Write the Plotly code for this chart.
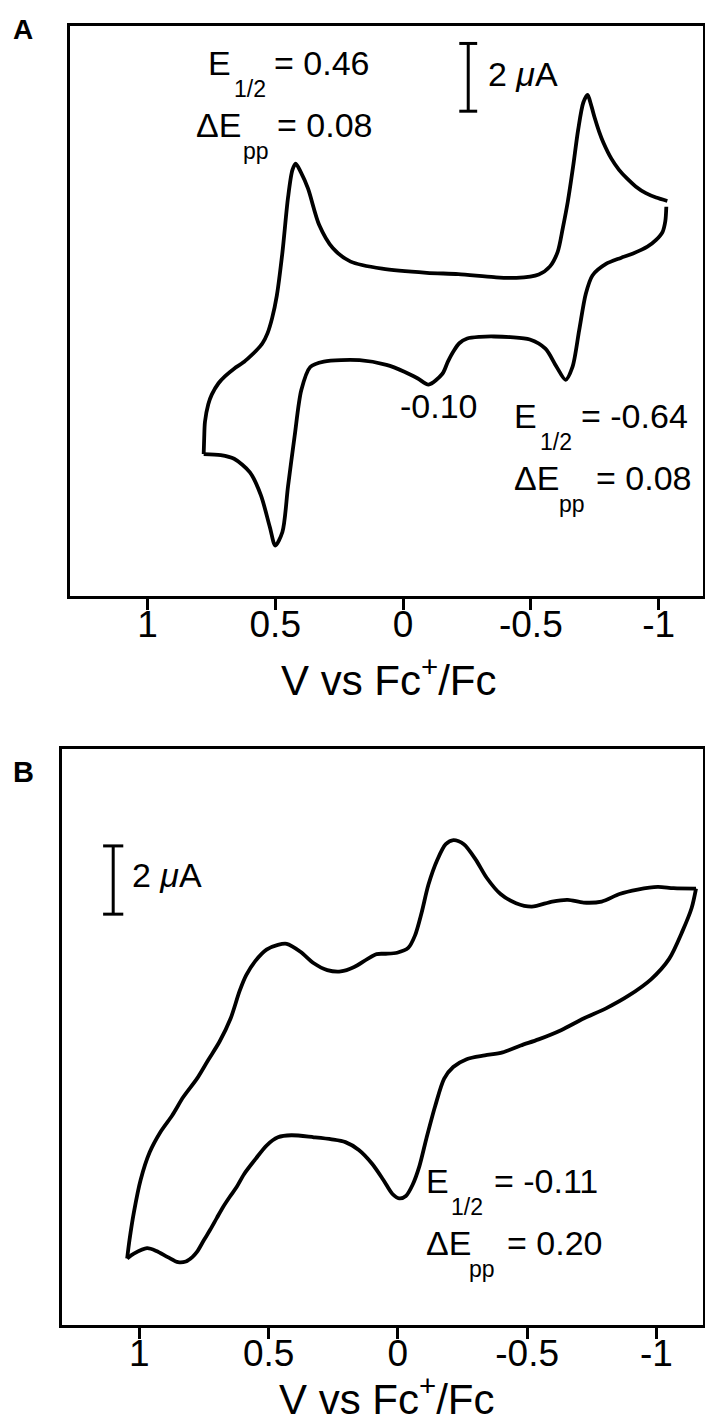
import plotly.graph_objects as go

W, H = 705, 1424
FONT = "Liberation Sans, Arial, Helvetica, sans-serif"

# ---------------- Panel A: cyclic voltammogram (V vs Fc+/Fc, current in uA)
# lower branch, swept from the negative limit back to the positive limit
a_low_v = [-1.030, -1.026, -1.015, -0.990, -0.956, -0.900, -0.852, -0.794, -0.741,
           -0.715, -0.689, -0.663, -0.636, -0.601, -0.557, -0.496, -0.420, -0.356,
           -0.300, -0.251, -0.220, -0.198, -0.175, -0.154, -0.100, -0.058, -0.005,
           0.065, 0.170, 0.310, 0.363, 0.398, 0.424, 0.450, 0.472, 0.500, 0.521,
           0.556, 0.599, 0.661, 0.713, 0.780]
a_low_i = [4.53, 4.10, 3.78, 3.55, 3.35, 3.15, 3.02, 2.84, 2.50,
           1.96, 0.88, -0.20, -0.58, -0.20, 0.34, 0.61, 0.68, 0.70,
           0.69, 0.64, 0.50, 0.27, -0.05, -0.40, -0.72, -0.54, -0.34,
           -0.14, 0.00, -0.04, -0.20, -0.88, -2.23, -3.72, -5.07, -5.47, -4.93,
           -3.99, -3.31, -2.91, -2.80, -2.77]
# upper branch, swept from the positive limit to the negative limit
a_up_v = [0.780, 0.778, 0.775, 0.762, 0.748, 0.722, 0.696, 0.661, 0.626, 0.600,
          0.575, 0.550, 0.530, 0.512, 0.494, 0.472, 0.450, 0.433, 0.420, 0.400,
          0.372, 0.328, 0.275, 0.205, 0.082, -0.093, -0.216, -0.356, -0.443,
          -0.531, -0.575, -0.605, -0.625, -0.645, -0.665, -0.685, -0.705, -0.722,
          -0.735, -0.750, -0.767, -0.784, -0.815, -0.845, -0.878, -0.910, -0.950,
          -0.990, -1.034]
a_up_i = [-2.77, -2.30, -1.82, -1.30, -1.01, -0.68, -0.47, -0.25, -0.07, 0.10,
          0.28, 0.50, 0.80, 1.25, 1.90, 3.18, 4.80, 5.61, 5.80, 5.55,
          5.07, 3.99, 3.31, 2.91, 2.70, 2.58, 2.54, 2.45, 2.43,
          2.53, 2.77, 3.20, 3.90, 4.70, 5.70, 6.80, 7.60, 7.83,
          7.55, 7.15, 6.75, 6.42, 5.95, 5.62, 5.35, 5.13, 4.93,
          4.80, 4.70]

# ---------------- Panel B: cyclic voltammogram
b_up_v = [-1.153, -1.066, -1.005, -0.927, -0.857, -0.788, -0.718, -0.657, -0.597,
          -0.518, -0.457, -0.397, -0.344, -0.301, -0.255, -0.215, -0.185, -0.153,
          -0.118, -0.092, -0.066, -0.040, 0.003, 0.047, 0.082, 0.117, 0.169, 0.221,
          0.273, 0.325, 0.377, 0.430, 0.464, 0.508, 0.551, 0.586, 0.612, 0.647,
          0.690, 0.734, 0.777, 0.830, 0.873, 0.917, 0.960, 0.995, 1.021, 1.038, 1.047]
b_up_i = [6.65, 6.66, 6.70, 6.62, 6.49, 6.27, 6.24, 6.32, 6.27,
          6.12, 6.22, 6.49, 6.96, 7.50, 7.95, 8.07, 7.95, 7.50,
          6.76, 5.95, 5.27, 4.91, 4.77, 4.74, 4.73, 4.59, 4.35, 4.22,
          4.26, 4.46, 4.80, 5.03, 5.00, 4.86, 4.53, 4.12, 3.65, 2.84,
          2.16, 1.62, 1.08, 0.54, 0.00, -0.47, -1.08, -1.89, -2.84, -3.65, -4.19]
b_low_v = [1.047, 1.021, 0.970, 0.934, 0.890, 0.850, 0.820, 0.795, 0.777, 0.750,
           0.726, 0.700, 0.676, 0.650, 0.623, 0.595, 0.551, 0.508, 0.464, 0.412,
           0.325, 0.256, 0.203, 0.151, 0.099, 0.056, 0.021, -0.005, -0.031, -0.057,
           -0.083, -0.110, -0.144, -0.179, -0.214, -0.266, -0.336, -0.405, -0.475,
           -0.544, -0.631, -0.718, -0.805, -0.892, -0.979, -1.049, -1.101, -1.136, -1.153]
b_low_i = [-4.19, -4.05, -3.89, -3.97, -4.15, -4.30, -4.28, -4.15, -4.00, -3.65,
           -3.35, -3.00, -2.68, -2.38, -2.09, -1.72, -1.28, -0.88, -0.64, -0.58,
           -0.64, -0.70, -0.78, -1.01, -1.42, -1.89, -2.30, -2.43, -2.36, -2.03,
           -1.49, -0.68, 0.27, 1.08, 1.42, 1.65, 1.76, 1.85, 2.05,
           2.23, 2.50, 2.84, 3.14, 3.51, 3.99, 4.59, 5.41, 6.08, 6.65]

tick_vals = [1, 0.5, 0, -0.5, -1]
tick_text = ["1", "0.5", "0", "-0.5", "-1"]

# current scale bars (2 uA) and their placement in data units
scale_ua = 2.0
a_bar_v, a_bar_top = -0.255, 9.35
b_bar_v, b_bar_top = 1.101, 7.90

fig = go.Figure()
line = dict(color="black", width=3.8, shape="spline", smoothing=0.8)
for xs, ys, ax in [(a_low_v, a_low_i, "1"), (a_up_v, a_up_i, "1"),
                   (b_up_v, b_up_i, "2"), (b_low_v, b_low_i, "2")]:
    fig.add_trace(go.Scatter(x=xs, y=ys, mode="lines", line=line,
                             xaxis="x" if ax == "1" else "x2",
                             yaxis="y" if ax == "1" else "y2",
                             hoverinfo="skip", showlegend=False))


def xaxis(domain, rng, anchor):
    return dict(domain=domain, range=rng, anchor=anchor, showgrid=False, zeroline=False,
                showline=True, linewidth=3, linecolor="black", mirror=True,
                ticks="outside", ticklen=11, tickwidth=3, tickcolor="black",
                tickvals=tick_vals, ticktext=tick_text, ticklabelstandoff=-17,
                tickfont=dict(family=FONT, size=37, color="black"))


def yaxis(domain, rng, anchor):
    return dict(domain=domain, range=rng, anchor=anchor, showgrid=False, zeroline=False,
                showline=True, linewidth=3, linecolor="black", mirror=True,
                showticklabels=False, ticks="")


def py(v):
    return 1 - v / H


shapes = []
for xr, yr, xv, top, half in [("x", "y", a_bar_v, a_bar_top, 0.035),
                              ("x2", "y2", b_bar_v, b_bar_top, 0.039)]:
    bot = top - scale_ua
    seg = dict(type="line", xref=xr, yref=yr, line=dict(color="black", width=3))
    shapes.append(dict(seg, x0=xv, x1=xv, y0=bot, y1=top))
    shapes.append(dict(seg, x0=xv - half, x1=xv + half, y0=top, y1=top))
    shapes.append(dict(seg, x0=xv - half, x1=xv + half, y0=bot, y1=bot))


def txt(s, left, baseline, size=34, bold=False, anchor="left"):
    cy = baseline - 0.358 * size
    return dict(text=f"<b>{s}</b>" if bold else s, x=left / W, y=py(cy),
                xref="paper", yref="paper", xanchor=anchor, yanchor="middle",
                showarrow=False, font=dict(family=FONT, size=size, color="black"))


SUB = 23
ann = [
    txt("A", 11, 40, 28, bold=True),
    txt("B", 11, 782, 29, bold=True),
    # panel A labels
    txt("E", 206, 75), txt("1/2", 232, 97, SUB), txt("= 0.46", 272, 75),
    txt("ΔE", 194, 137), txt("pp", 241, 159, SUB), txt("= 0.08", 275, 137),
    txt("-0.10", 398, 418),
    txt("E", 512, 428), txt("1/2", 538, 450, SUB), txt("= -0.64", 579, 428),
    txt("ΔE", 512, 490), txt("pp", 557, 512, SUB), txt("= 0.08", 594, 490),
    txt("2 <i>μ</i>A", 486, 86),
    # panel B labels
    txt("E", 424, 1193), txt("1/2", 449, 1215, SUB), txt("= -0.11", 492, 1193),
    txt("ΔE", 424, 1255), txt("pp", 467, 1277, SUB), txt("= 0.20", 505, 1255),
    txt("2 <i>μ</i>A", 130, 887),
    # axis titles
    txt("V vs Fc<sup>+</sup>/Fc", 389, 692, 42, anchor="center"),
    txt("V vs Fc<sup>+</sup>/Fc", 387, 1411, 42, anchor="center"),
]

fig.update_layout(
    width=W, height=H, margin=dict(l=0, r=0, t=0, b=0),
    paper_bgcolor="white", plot_bgcolor="white", showlegend=False,
    xaxis=xaxis([70 / W, 703 / W], [1.303, -1.1735], "y"),
    yaxis=yaxis([py(596), py(26)], [-6.96, 9.865], "x"),
    xaxis2=xaxis([62 / W, 703 / W], [1.299, -1.180], "y2"),
    yaxis2=yaxis([py(1325), py(749)], [-6.14, 10.74], "x2"),
    shapes=shapes, annotations=ann,
)

fig.write_html("out.html", config={"displayModeBar": False})
